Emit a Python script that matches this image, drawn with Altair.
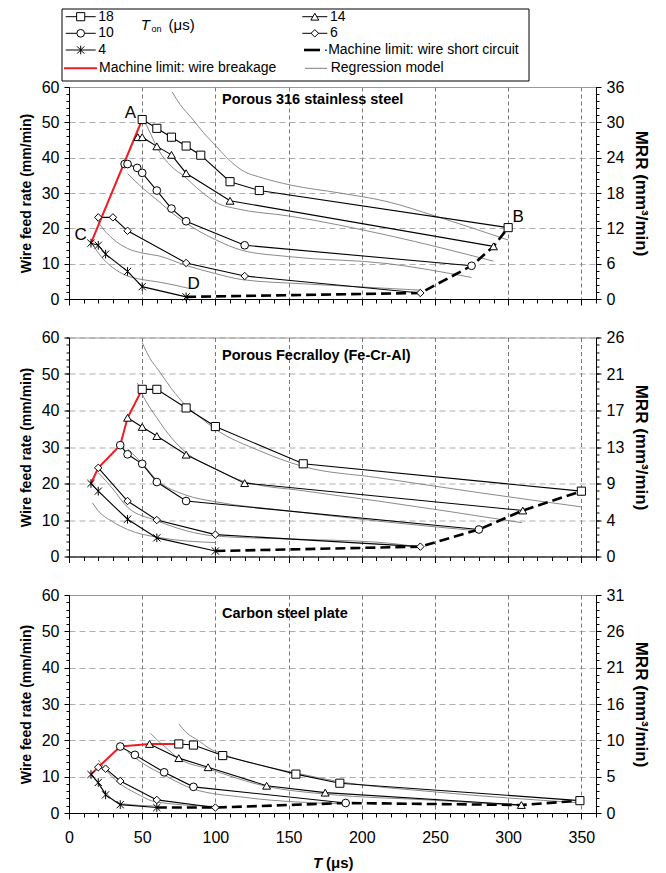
import altair as alt
import pandas as pd

SERIES = ["18", "14", "10", "6", "4"]
MARKER_SHAPES = ["square", "triangle-up", "circle", "diamond",
                 "M-1,-1L1,1M-1,1L1,-1M0,-1.2L0,1.2"]
MARKER_SIZES = [66, 52, 66, 30, 42]
X_TICKS = [0, 50, 100, 150, 200, 250, 300, 350]
X_MINOR = list(range(0, 361, 10))
Y_TICKS = [0, 10, 20, 30, 40, 50, 60]
Y_MINOR = list(range(0, 61, 2))

# ---------------- Panel 1: Porous 316 stainless steel ----------------
ss_18 = [(50, 50.8), (60, 48.3), (70, 45.8), (80, 43.3), (90, 40.7), (110, 33.2), (130, 30.7), (300, 20.2)]
ss_14 = [(47, 45.8), (50, 45.8), (60, 43.2), (70, 40.8), (80, 35.6), (110, 27.8), (290, 14.9)]
ss_10 = [(38, 38.2), (40, 38.2), (46.6, 37.1), (50, 35.7), (60, 30.7), (70, 25.6), (80, 22.0), (120, 15.2), (275, 9.4)]
ss_6 = [(20, 23.1), (30, 23.1), (40, 19.3), (80, 10.2), (120, 6.5), (240, 1.7)]
ss_4 = [(15, 15.8), (20, 15.2), (25, 12.7), (40, 7.8), (50, 3.5), (80, 0.6)]
ss_r18 = [(70.5, 58.6), (76, 55), (84, 51.1), (92, 47), (100, 43.5), (107, 40.3), (113.6, 37.8),
          (120, 36), (129.5, 34.6), (152, 32.2), (185, 30), (218, 27.5), (250, 23.5), (300, 16.7)]
ss_r14 = [(52, 50), (56, 46.5), (61.4, 42), (70, 37.5), (78.4, 34.8), (90, 30.5), (102, 27),
          (115, 25.5), (150, 23.5), (218, 18), (290, 10.7)]
ss_r10 = [(40, 35.5), (50, 31.5), (61.4, 27.6), (70, 24.5), (84, 20.4), (100, 16.8), (118, 13.8),
          (150, 12), (218, 10), (275, 6.1)]
ss_r6 = [(18, 23), (24, 19.5), (30, 17), (40, 14.3), (50, 13), (61.4, 12.2), (80, 9.5), (100, 7.2),
         (118, 5.5), (160, 4.3), (200, 3.4), (240, 2.5)]
ss_r4 = [(16.6, 15.1), (22, 12), (29.5, 9), (40, 6.5), (50, 5.5), (61.4, 4.8), (82, 3)]
ss_break = [(15, 15.8), (50, 50.8)]
ss_short = [(80, 0.6), (240, 1.7), (275, 9.4), (290, 14.9), (300, 20.2)]
ss_mrr = [0, 6, 12, 18, 24, 30, 36]
ss_letters = ["A", "B", "C", "D"]
ss_letter_T = [42, 306.8, 8, 85.2]
ss_letter_W = [52.7, 23.1, 18.2, 4.3]

# ---------------- Panel 2: Porous Fecralloy ----------------
fe_18 = [(50, 45.8), (60, 45.8), (80, 40.7), (100, 35.6), (160, 25.4), (350, 17.9)]
fe_14 = [(40, 38.0), (50, 35.5), (60, 33.0), (80, 27.9), (120, 20.1), (310, 12.6)]
fe_10 = [(35, 30.5), (40, 28.0), (50, 25.4), (60, 20.4), (80, 15.2), (280, 7.4)]
fe_6 = [(20, 24.3), (40, 15.2), (60, 10.0), (100, 6.0), (240, 2.7)]
fe_4 = [(15, 20.0), (20, 17.9), (40, 10.2), (60, 5.1), (100, 1.5)]
fe_r18 = [(50, 58.6), (55, 54.5), (61.4, 50.9), (70, 46), (80, 41.3), (90, 38), (100, 34.9),
          (130, 29), (159.5, 24.7), (211, 21.6), (280, 17.5), (350, 13.6)]
fe_r14 = [(46.6, 47.6), (50, 44.5), (60, 38), (70, 32.5), (80, 28.5), (100, 24), (120, 20.5),
          (160, 18), (211, 15.2), (309.5, 9.25)]
fe_r10 = [(40, 29.5), (50, 25.5), (60, 21), (80, 16.8), (100, 15), (150, 12.5), (211, 9.7), (280, 7.0)]
fe_r6 = [(20, 23), (30, 18.5), (40, 13.5), (60, 9.8), (100, 5.6), (150, 4.8), (211, 3.9), (240, 2.6)]
fe_r4 = [(16, 14.7), (20, 12.5), (30, 9.5), (40, 7.4), (61.4, 5.2), (100, 3.8)]
fe_break = [(15, 20.0), (20, 24.3), (35, 30.5), (40, 38.0), (50, 45.8)]
fe_short = [(100, 1.5), (240, 2.7), (280, 7.4), (310, 12.6), (350, 17.9)]
fe_mrr = [0, 4, 9, 13, 17, 21, 26]

# ---------------- Panel 3: Carbon steel plate ----------------
cs_18 = [(75, 19.0), (85, 18.7), (105, 15.8), (155, 10.7), (185, 8.2), (349, 3.4)]
cs_14 = [(55, 19.0), (75, 15.1), (95, 12.6), (135, 7.5), (175, 5.6), (309, 2.2)]
cs_10 = [(35, 18.3), (45, 16.0), (65, 11.2), (85, 7.2), (189, 2.75)]
cs_6 = [(20, 12.6), (25, 12.2), (35, 8.8), (60, 3.6), (100, 1.5)]
cs_4 = [(15, 10.6), (20, 8.4), (25, 5.0), (35, 2.3), (60, 1.5)]
cs_r18 = [(75, 24.5), (80, 22.2), (88.6, 19.9), (95, 18), (105, 16.2), (130, 13.2), (155, 11),
          (185, 8.6), (250, 5.8), (349, 2.8)]
cs_r14 = [(55.7, 21.9), (60, 20.2), (65.9, 18.1), (75, 15), (95, 12.2), (135, 7.3), (175, 5.2),
          (250, 3.5), (309, 2.0)]
cs_r10 = [(40, 16.8), (50, 13.8), (65.5, 10.3), (85, 6.6), (120, 4.3), (189, 2.5)]
cs_r6 = [(20, 14.6), (27, 11), (35, 8), (45, 5.6), (60, 3), (100, 1.8)]
cs_r4 = [(15, 11.1), (20, 8), (25.5, 5.4), (35, 2.6), (60, 1.9)]
cs_break = [(15, 10.6), (20, 12.6), (35, 18.3), (55, 19.0), (75, 19.0)]
cs_short = [(60, 1.5), (100, 1.5), (189, 2.75), (309, 2.2), (349, 3.4)]
cs_mrr = [0, 5, 10, 16, 21, 26, 31]

# ---------------- Legend layout (pixels relative to the top panel) ----------------
LEG_BOX = [(-7, 460, -78, -6)]
LEG_SER_X1 = [-3.3, 233.3, -3.3, 233.3, -3.3]
LEG_SER_X2 = [26.7, 258.3, 26.7, 258.3, 26.7]
LEG_SER_Y = [-70.3, -70.3, -53.7, -53.7, -37]

FONT = "Liberation Sans"
XS = alt.Scale(domain=[0, 360], nice=False, zero=False)
YS = alt.Scale(domain=[0, 60], nice=False, zero=False)
SHAPE_SCALE = alt.Scale(domain=SERIES, range=MARKER_SHAPES)
SIZE_SCALE = alt.Scale(domain=SERIES, range=MARKER_SIZES)


def to_df(named):
    return pd.DataFrame([{"s": s, "T": t, "W": w} for s, pts in named for t, w in pts])


def panel(meas, reg, brk, short, mrr, title, title_y, h, letters=None, bottom=False, legend=False):
    d = to_df(list(zip(SERIES, meas)))
    r = to_df(list(zip(SERIES, reg)))
    b = to_df([("b", brk)])
    sc = to_df([("c", short)])

    ax_x = alt.Axis(values=X_TICKS, grid=True, gridDash=[4, 3], gridColor="#555", gridWidth=0.8,
                    tickSize=6, labels=bottom, labelFontSize=16, labelPadding=10, labelFlush=False,
                    title=None, orient="bottom")
    ax_xm = alt.Axis(values=X_MINOR, grid=False, labels=False, tickSize=4, domain=False,
                     title=None, orient="bottom")
    ax_yl = alt.Axis(values=Y_TICKS, grid=True, gridDash=[6, 4], gridColor="#999", gridWidth=0.8,
                     tickSize=5, labelPadding=5, labelFontSize=16, labelFlush=False,
                     title="Wire feed rate (mm/min)", titleFontSize=14, titleFontWeight="bold",
                     titlePadding=8, orient="left")
    ax_ylm = alt.Axis(values=Y_MINOR, grid=False, labels=False, tickSize=3, domain=False,
                      title=None, orient="left")
    ax_yr = alt.Axis(values=Y_TICKS, grid=False, tickSize=5, labelPadding=5, labelFontSize=16,
                     labelFlush=False, labelExpr=f"{mrr}[round(datum.value/10)]",
                     title="MRR (mm\u00b3/min)", titleFontSize=17, titleFontWeight="bold",
                     titlePadding=8, orient="right")
    ax_yrm = alt.Axis(values=Y_MINOR, grid=False, labels=False, tickSize=3, domain=False,
                      title=None, orient="right")

    def enc(ax_x_=None, ax_y_=None):
        return dict(x=alt.X("T:Q", scale=XS, axis=ax_x_), y=alt.Y("W:Q", scale=YS, axis=ax_y_))

    layers = [
        alt.Chart(r).mark_line(color="#7d7d7d", strokeWidth=0.9, interpolate="monotone")
        .encode(detail="s:N", **enc(ax_x, ax_yl)),
        alt.Chart(d).mark_line(color="black", strokeWidth=1.1)
        .encode(detail="s:N", **enc(ax_xm, ax_ylm)),
        alt.Chart(b).mark_line(color="#ee1c25", strokeWidth=2)
        .encode(**enc(None, ax_yr)),
        alt.Chart(sc).mark_line(color="black", strokeWidth=2.6, strokeDash=[10, 5])
        .encode(**enc(None, ax_yrm)),
        alt.Chart(d).mark_point(filled=False, fill="white", fillOpacity=1, stroke="black",
                                strokeWidth=1, opacity=1)
        .encode(shape=alt.Shape("s:N", scale=SHAPE_SCALE, legend=None),
                size=alt.Size("s:N", scale=SIZE_SCALE, legend=None), **enc()),
        alt.Chart(pd.DataFrame({"t": [title]})).mark_text(
            align="left", baseline="middle", fontSize=14.5, fontWeight="bold", font=FONT)
        .encode(x=alt.value(153), y=alt.value(title_y), text="t:N"),
    ]
    if letters is not None:
        ldf = pd.DataFrame({"T": letters[1], "W": letters[2], "t": letters[0]})
        layers.append(alt.Chart(ldf).mark_text(fontSize=17, font=FONT)
                      .encode(text="t:N", **enc()))
    if bottom:
        layers.append(alt.Chart(pd.DataFrame({"t": ["T"]})).mark_text(
            align="center", baseline="middle", fontSize=15, fontWeight="bold", fontStyle="italic", font=FONT)
            .encode(x=alt.value(248.5), y=alt.value(h + 50), text="t:N"))
        layers.append(alt.Chart(pd.DataFrame({"t": ["(\u03bcs)"]})).mark_text(
            align="left", baseline="middle", fontSize=15, fontWeight="bold", font=FONT)
            .encode(x=alt.value(257), y=alt.value(h + 50), text="t:N"))
    if legend:
        layers += legend_layers()
    return alt.layer(*layers).resolve_axis(x="independent", y="independent").properties(width=527, height=h)


def legend_layers():
    PX = lambda f: alt.X(f, scale=None)
    PY = lambda f: alt.Y(f, scale=None)
    box = pd.DataFrame(LEG_BOX, columns=["x1", "x2", "y1", "y2"])
    ser = pd.DataFrame({"s": SERIES, "x1": LEG_SER_X1, "x2": LEG_SER_X2, "y": LEG_SER_Y})
    ser["xm"] = (ser["x1"] + ser["x2"]) / 2
    ser["xt"] = ser["x2"] + 2.6
    red = pd.DataFrame({"x1": [-5], "x2": [28], "y": [-18.7], "xt": [30],
                        "t": ["Machine limit: wire breakage"]})
    dash = pd.DataFrame({"x1": [235], "x2": [251], "y": [-37], "xt": [254.5],
                         "t": ["\u00b7Machine limit: wire short circuit"]})
    gray = pd.DataFrame({"x1": [236], "x2": [258], "y": [-18.7], "xt": [261.7],
                         "t": ["Regression model"]})
    txt = dict(align="left", baseline="middle", fontSize=14, font=FONT)
    out = [
        alt.Chart(box).mark_rect(fillOpacity=0, stroke="black", strokeWidth=1)
        .encode(x=PX("x1:Q"), x2="x2:Q", y=PY("y1:Q"), y2="y2:Q"),
        alt.Chart(ser).mark_rule(color="black", strokeWidth=1).encode(x=PX("x1:Q"), x2="x2:Q", y=PY("y:Q")),
        alt.Chart(ser).mark_point(filled=False, fill="white", fillOpacity=1, stroke="black",
                                  strokeWidth=1, opacity=1)
        .encode(x=PX("xm:Q"), y=PY("y:Q"),
                shape=alt.Shape("s:N", scale=SHAPE_SCALE, legend=None),
                size=alt.Size("s:N", scale=SIZE_SCALE, legend=None)),
        alt.Chart(ser).mark_text(**txt).encode(x=PX("xt:Q"), y=PY("y:Q"), text="s:N"),
        alt.Chart(red).mark_rule(color="#ee1c25", strokeWidth=2).encode(x=PX("x1:Q"), x2="x2:Q", y=PY("y:Q")),
        alt.Chart(red).mark_text(**txt).encode(x=PX("xt:Q"), y=PY("y:Q"), text="t:N"),
        alt.Chart(dash).mark_rule(color="black", strokeWidth=2.6).encode(x=PX("x1:Q"), x2="x2:Q", y=PY("y:Q")),
        alt.Chart(dash).mark_text(**txt).encode(x=PX("xt:Q"), y=PY("y:Q"), text="t:N"),
        alt.Chart(gray).mark_rule(color="#7d7d7d", strokeWidth=1).encode(x=PX("x1:Q"), x2="x2:Q", y=PY("y:Q")),
        alt.Chart(gray).mark_text(**txt).encode(x=PX("xt:Q"), y=PY("y:Q"), text="t:N"),
    ]
    ton = pd.DataFrame({"x": [71.7], "y": [-62], "t": ["T"]})
    out.append(alt.Chart(ton).mark_text(align="left", baseline="middle", fontSize=15,
                                        fontStyle="italic", font=FONT)
               .encode(x=PX("x:Q"), y=PY("y:Q"), text="t:N"))
    on = pd.DataFrame({"x": [82.5], "y": [-58.5], "t": ["on"]})
    out.append(alt.Chart(on).mark_text(align="left", baseline="middle", fontSize=9, font=FONT)
               .encode(x=PX("x:Q"), y=PY("y:Q"), text="t:N"))
    us = pd.DataFrame({"x": [99.5], "y": [-62], "t": ["(\u03bcs)"]})
    out.append(alt.Chart(us).mark_text(align="left", baseline="middle", fontSize=15, font=FONT)
               .encode(x=PX("x:Q"), y=PY("y:Q"), text="t:N"))
    return out


p1 = panel([ss_18, ss_14, ss_10, ss_6, ss_4], [ss_r18, ss_r14, ss_r10, ss_r6, ss_r4],
           ss_break, ss_short, ss_mrr, "Porous 316 stainless steel", 13, 212,
           letters=(ss_letters, ss_letter_T, ss_letter_W), legend=True)
p2 = panel([fe_18, fe_14, fe_10, fe_6, fe_4], [fe_r18, fe_r14, fe_r10, fe_r6, fe_r4],
           fe_break, fe_short, fe_mrr, "Porous Fecralloy (Fe-Cr-Al)", 18, 219)
p3 = panel([cs_18, cs_14, cs_10, cs_6, cs_4], [cs_r18, cs_r14, cs_r10, cs_r6, cs_r4],
           cs_break, cs_short, cs_mrr, "Carbon steel plate", 19, 218, bottom=True)

chart = (
    alt.vconcat(p1, p2, p3, spacing=38.5, bounds="flush")
    .properties(padding={"left": 10, "top": 0, "right": 2, "bottom": 2})
    .configure(font=FONT)
    .configure_view(stroke="#999", strokeWidth=1)
    .configure_axis(domainColor="black", tickColor="black", labelColor="black",
                    titleColor="black", labelFont=FONT, titleFont=FONT, domainWidth=1, tickWidth=1)
)

chart.save("out.html", embed_options={"renderer": "svg", "actions": False})
